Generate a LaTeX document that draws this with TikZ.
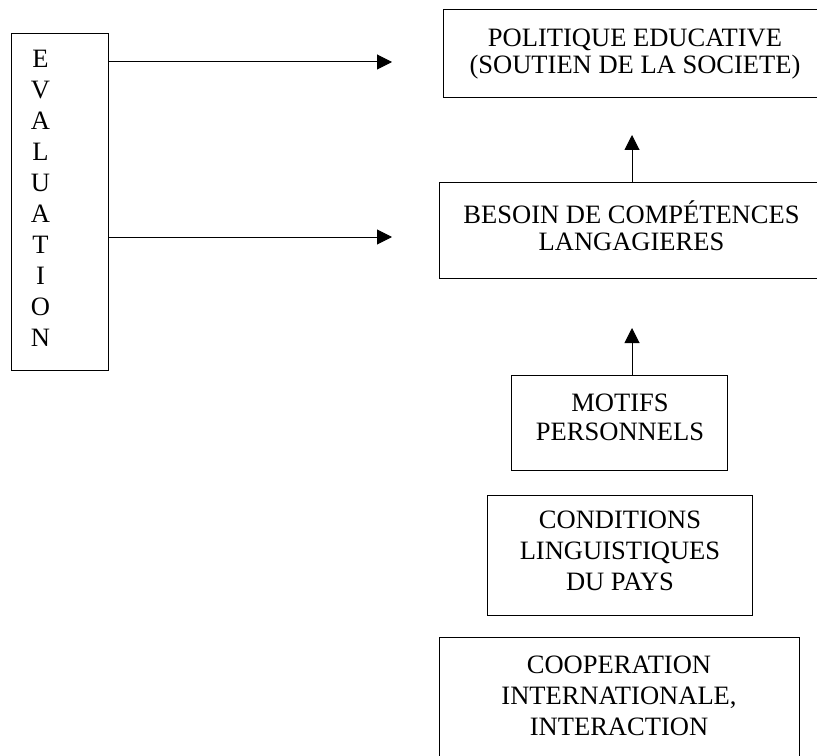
\documentclass[tikz,border=0pt]{standalone}
\usepackage{fontspec}
\setmainfont{Liberation Serif}
\usetikzlibrary{arrows.meta}
\newcommand{\blk}[2]{\fontsize{19.9}{#1}\selectfont\begin{tabular}[t]{@{}c@{}}#2\end{tabular}}
\tikzset{
  box/.style={draw, line width=0.75pt, rectangle, inner sep=0pt, outer sep=0pt},
  txt/.style={inner sep=0pt, outer sep=0pt, anchor=base},
  arr/.style={line width=0.75pt, -{Triangle[length=11.25pt,width=11.25pt]}}
}
\begin{document}
\begin{tikzpicture}[x=0.75pt,y=-0.75pt]
\useasboundingbox (0,0) rectangle (817,756);
\clip (0,0) rectangle (817,756);
\fill[white] (0,0) rectangle (817,756);
% boxes
\node[box, minimum width=72.75pt, minimum height=252pt] (eval) at (59.5,202) {};
\node[box, minimum width=288pt, minimum height=66pt] (pol) at (635,54) {};
\node[box, minimum width=288.75pt, minimum height=71.25pt] (bes) at (631.5,230.5) {};
\node[box, minimum width=162pt, minimum height=71.25pt] (mot) at (619,422.5) {};
\node[box, minimum width=198.75pt, minimum height=90pt] (cond) at (619.5,555) {};
\node[box, minimum width=270pt, minimum height=92.25pt] (coop) at (619,698.5) {};
% texts (anchored at first baseline)
\node[txt] (evaltext) at (40.5,68) {\blk{23.25pt}{E\\V\\A\\L\\U\\A\\T\\I\\O\\N}};
\node[txt] (poltext) at (635,47) {\blk{19.5pt}{POLITIQUE EDUCATIVE\\(SOUTIEN DE LA SOCIETE)}};
\node[txt] (bestext) at (631.5,223) {\blk{20.6pt}{BESOIN DE COMPÉTENCES\\LANGAGIERES}};
\node[txt] (mottext) at (620,411) {\blk{21.75pt}{MOTIFS\\PERSONNELS}};
\node[txt] (condtext) at (620,528) {\blk{23.6pt}{CONDITIONS\\LINGUISTIQUES\\DU PAYS}};
\node[txt] (cooptext) at (619,673) {\blk{23.25pt}{COOPERATION\\INTERNATIONALE,\\INTERACTION}};
% free ends
\coordinate (e1) at (392,62);
\coordinate (e2) at (392,237);
\coordinate (t1) at (632,135);
\coordinate (t2) at (632,328);
% connectors
\draw[arr] (eval.east |- e1) -- (e1);
\draw[arr] (eval.east |- e2) -- (e2);
\draw[arr] (t1 |- bes.north) -- (t1);
\draw[arr] (t2 |- mot.north) -- (t2);
\end{tikzpicture}
\end{document}
